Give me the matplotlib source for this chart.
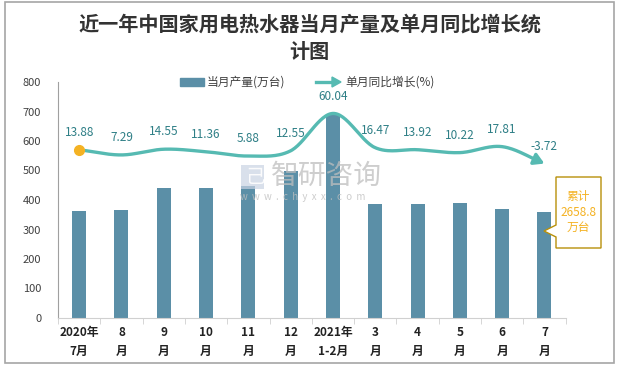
import numpy as np
import matplotlib
matplotlib.use("Agg")
import matplotlib.pyplot as plt
from matplotlib.patches import Polygon, Rectangle
from matplotlib.lines import Line2D

plt.rcParams['font.family'] = ['Noto Sans CJK SC', 'DejaVu Sans']

# ---- data ----
categories = ["2020年\n7月", "8\n月", "9\n月", "10\n月", "11\n月", "12\n月",
              "2021年\n1-2月", "3\n月", "4\n月", "5\n月", "6\n月", "7\n月"]
output_vals = [363, 366, 441, 441, 447, 498, 688, 386, 386, 390, 369, 359]
yoy_vals = [13.88, 7.29, 14.55, 11.36, 5.88, 12.55, 60.04, 16.47, 13.92, 10.22, 17.81, -3.72]
cumulative = 2658.8
title = "近一年中国家用电热水器当月产量及单月同比增长统\n计图"
legend_bar = "当月产量(万台)"
legend_line = "单月同比增长(%)"

W, H = 619, 368
fig = plt.figure(figsize=(W / 100, H / 100), dpi=100)

def fx(px):
    return px / W

def fy(py):
    return 1 - py / H

bar_color = "#5B8FA7"
line_color = "#56BAB2"
label_color = "#2E7F86"
gold = "#F4B223"

ax = fig.add_axes([fx(58), fy(318), fx(565.6) - fx(58), fy(82) - fy(318)])
x = np.arange(len(categories))
ax.bar(x, output_vals, width=0.33, color=bar_color, zorder=2)
ax.set_xlim(-0.5, len(categories) - 0.5)
ax.set_ylim(0, 800)
ax.set_yticks(np.arange(0, 801, 100))
ax.tick_params(axis='y', length=0, labelsize=8, labelcolor="#404040", pad=12)
ax.set_xticks(np.arange(-0.5, len(categories), 1), minor=True)
ax.set_xticks(x)
ax.set_xticklabels(categories, fontsize=8.5, fontweight='bold', color="#222222", linespacing=1.6)
ax.tick_params(axis='x', which='major', length=0, pad=6)
ax.tick_params(axis='x', which='minor', length=4, color="#D0D0D0", direction='out')
for s in ['top', 'right']:
    ax.spines[s].set_visible(False)
ax.spines['left'].set_color("#A0A0A0")
ax.spines['bottom'].set_color("#D0D0D0")

# secondary axis for line
ax2 = ax.twinx()
ax2.set_ylim(-200, 100)
ax2.axis('off')

# Catmull-Rom smoothing for display
def smooth(xs, ys, n=30):
    xs = np.asarray(xs, float); ys = np.asarray(ys, float)
    px = np.concatenate([[2 * xs[0] - xs[1]], xs, [2 * xs[-1] - xs[-2]]])
    py = np.concatenate([[2 * ys[0] - ys[1]], ys, [2 * ys[-1] - ys[-2]]])
    ox, oy = [], []
    for i in range(1, len(px) - 2):
        t = np.linspace(0, 1, n, endpoint=False)
        for arr, out in ((px, ox), (py, oy)):
            p0, p1, p2, p3 = arr[i - 1], arr[i], arr[i + 1], arr[i + 2]
            out.extend(0.5 * ((2 * p1) + (-p0 + p2) * t + (2 * p0 - 5 * p1 + 4 * p2 - p3) * t ** 2
                              + (-p0 + 3 * p1 - 3 * p2 + p3) * t ** 3))
    ox.append(xs[-1]); oy.append(ys[-1])
    return np.array(ox), np.array(oy)

sx, sy = smooth(x, yoy_vals)
ax2.plot(sx[:-6], sy[:-6], color=line_color, lw=2.4, solid_capstyle='round', zorder=3)
ax2.annotate("", xy=(sx[-1], sy[-1]), xytext=(sx[-8], sy[-8]),
             arrowprops=dict(arrowstyle="-|>,head_length=0.6,head_width=0.35", color=line_color, lw=2.4,
                             shrinkA=0, shrinkB=0))
ax2.plot([x[0]], [yoy_vals[0]], 'o', color=gold, ms=7, zorder=4)
for xi, v in zip(x, yoy_vals):
    ax2.annotate(f"{v:.2f}", (xi, v), xytext=(0, 12.5), textcoords='offset points',
                 ha='center', va='center', fontsize=8.5, color=label_color, zorder=5)

# legend (manual)
fig.patches.append(Rectangle((fx(180), fy(86)), fx(204) - fx(180), fy(78) - fy(86),
                             transform=fig.transFigure, color=bar_color))
fig.text(fx(207), fy(82), legend_bar, fontsize=8.5, color="#404040", va='center', ha='left')
fig.lines.append(Line2D([fx(316), fx(333)], [fy(82), fy(82)], transform=fig.transFigure,
                        color=line_color, lw=2.4))
fig.patches.append(Polygon([[fx(332), fy(77)], [fx(341), fy(82)], [fx(332), fy(87)]],
                           closed=True, transform=fig.transFigure, color=line_color))
fig.text(fx(345), fy(82), legend_line, fontsize=8.5, color="#404040", va='center', ha='left')

# title
fig.text(0.5, fy(38), title, ha='center', va='center', fontsize=14.5, fontweight='bold',
         color="#333333", linespacing=1.35)

# watermark
fig.patches.append(Rectangle((fx(241), fy(189)), fx(23), fy(165) - fy(189), transform=fig.transFigure,
                             facecolor="#C9D3E3", edgecolor='none', alpha=0.7, zorder=6))
fig.text(fx(245), fy(177), "己", fontsize=14, color="white", va='center', ha='left', alpha=0.9, zorder=7)
fig.text(fx(271), fy(176), "智研咨询", fontsize=20, color="#BEBEBE", va='center', ha='left',
         alpha=0.75, zorder=7)
fig.text(fx(240), fy(197.5), "w  w  w  .  c  h  y  x  x  .  c  o  m", fontsize=7, color="#C0C0C0",
         va='center', ha='left', alpha=0.8, zorder=7)

# callout box
pts = [(556, 177), (601, 177), (601, 248), (556, 248), (556, 237), (544, 231), (556, 225)]
fig.patches.append(Polygon([[fx(a), fy(b)] for a, b in pts], closed=True, transform=fig.transFigure,
                           facecolor='white', edgecolor="#B8900A", lw=1.0, zorder=8))
fig.text(fx(578.5), fy(212), f"累计\n{cumulative}\n万台", ha='center', va='center', fontsize=8.5,
         color=gold, linespacing=1.25, zorder=9)

# outer border
fig.patches.append(Rectangle((fx(5), fy(363)), fx(609), fy(2) - fy(363), transform=fig.transFigure,
                             fill=False, edgecolor="#A6A6A6", lw=1.2))

fig.savefig("out.png", dpi=100)
